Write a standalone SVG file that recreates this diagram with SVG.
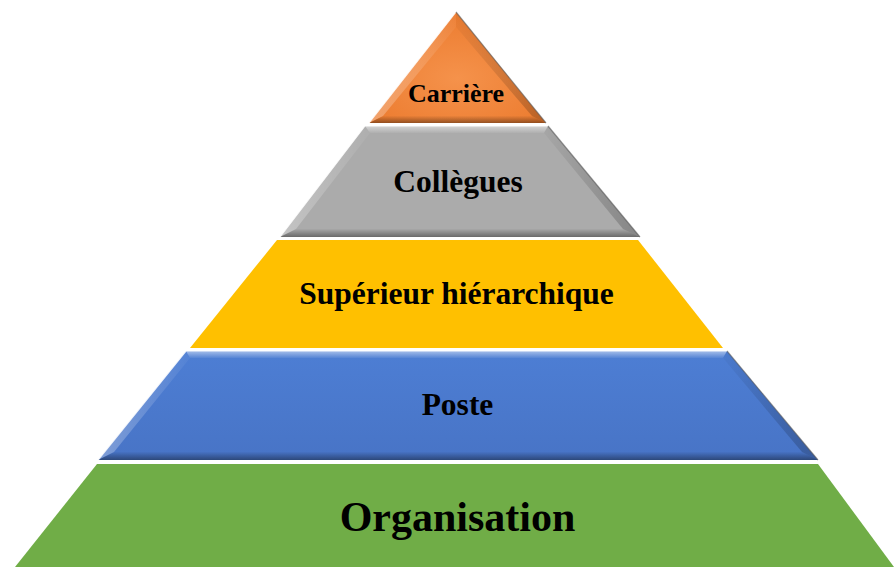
<svg xmlns="http://www.w3.org/2000/svg" width="894" height="567" viewBox="0 0 894 567">
  <defs>
    <linearGradient id="gTop" x1="0" y1="0" x2="0" y2="1">
      <stop offset="0" stop-color="#fff" stop-opacity="0.5"/>
      <stop offset="1" stop-color="#fff" stop-opacity="0.05"/>
    </linearGradient>
    <linearGradient id="gBot" x1="0" y1="0" x2="0" y2="1">
      <stop offset="0" stop-color="#000" stop-opacity="0.02"/>
      <stop offset="1" stop-color="#000" stop-opacity="0.38"/>
    </linearGradient>
    <linearGradient id="gLeft" x1="0" y1="0" x2="1" y2="0">
      <stop offset="0" stop-color="#fff" stop-opacity="0.3"/>
      <stop offset="1" stop-color="#fff" stop-opacity="0.04"/>
    </linearGradient>
    <linearGradient id="gRight" x1="0" y1="0" x2="1" y2="0">
      <stop offset="0" stop-color="#000" stop-opacity="0.03"/>
      <stop offset="1" stop-color="#000" stop-opacity="0.22"/>
    </linearGradient>
    <radialGradient id="gOrange" cx="0.5" cy="0.6" r="0.6">
      <stop offset="0" stop-color="#F5924B"/>
      <stop offset="1" stop-color="#EC7C30"/>
    </radialGradient>
    <linearGradient id="gBlue" x1="0" y1="0" x2="0" y2="1">
      <stop offset="0" stop-color="#4D7ED4"/>
      <stop offset="1" stop-color="#4874C6"/>
    </linearGradient>
  </defs>
  <style>
    .lbl { font-family: "Liberation Serif", "Times New Roman", serif; font-weight: bold; fill: #000; text-anchor: middle; }
    .hl { fill: url(#gTop); }
    .hlL { fill: url(#gLeft); }
    .shR { fill: url(#gRight); }
    .shB { fill: url(#gBot); }
    .edgeL { fill: none; stroke: #ffffff; stroke-opacity: 0.85; stroke-width: 1.2; }
    .edgeR { fill: none; stroke: #555; stroke-opacity: 0.6; stroke-width: 1.2; }
  </style>
  <rect width="894" height="567" fill="#ffffff"/>

  <g id="organisation">
    <polygon points="97,464 818,464 894,567 15,567" fill="#70AD47"/>
    <text class="lbl" x="457.5" y="531" font-size="42">Organisation</text>
  </g>

  <g id="poste">
    <polygon points="186,351 727,351 818,460 98,460" fill="url(#gBlue)"/>
    <polygon class="hl" points="186,351 727,351 723,358 190,358"/>
    <polygon class="hlL" points="186,351 190,358 114,452 98,460"/>
    <polygon class="shR" points="727,351 818,460 802,452 723,358"/>
    <polygon class="shB" points="98,460 114,452 802,452 818,460"/>
    <polyline class="edgeL" points="98,460 186,351 727,351"/>
    <line class="edgeR" x1="727" y1="351" x2="818" y2="460"/>
    <text class="lbl" x="457.5" y="415" font-size="31.5">Poste</text>
  </g>

  <g id="superieur">
    <polygon points="277,240 638,240 723,348 190,348" fill="#FFC000"/>
    <text class="lbl" x="456.5" y="304" font-size="31.5">Supérieur hiérarchique</text>
  </g>

  <g id="collegues">
    <polygon points="365,126 548,126 640,237 280,237" fill="#ABABAB"/>
    <polygon class="hl" points="365,126 548,126 544,133 370,133"/>
    <polygon class="hlL" points="365,126 370,133 296,229 280,237"/>
    <polygon class="shR" points="548,126 640,237 623,229 544,133"/>
    <polygon class="shB" points="280,237 296,229 623,229 640,237"/>
    <polyline class="edgeL" points="280,237 365,126 548,126"/>
    <line class="edgeR" x1="548" y1="126" x2="640" y2="237"/>
    <text class="lbl" x="458" y="192" font-size="31.5">Collègues</text>
  </g>

  <g id="carriere">
    <polygon points="456,12 369,123 546,123" fill="url(#gOrange)"/>
    <polygon class="hlL" points="456,12 456,27 383,116 369,123"/>
    <polygon class="shR" points="456,12 546,123 532,116 456,27"/>
    <polygon class="shB" points="369,123 383,116 532,116 546,123"/>
    <line class="edgeL" x1="369" y1="123" x2="456" y2="12"/>
    <line class="edgeR" x1="456" y1="12" x2="546" y2="123"/>
    <text class="lbl" x="456" y="102" font-size="26">Carrière</text>
  </g>
</svg>
